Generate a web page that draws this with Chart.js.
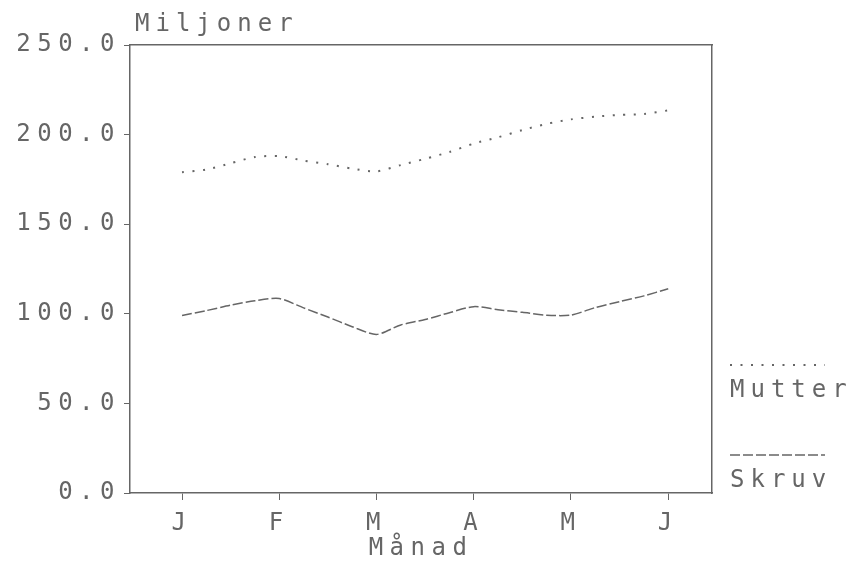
<!DOCTYPE html>
<html>
<head>
<meta charset="utf-8">
<script src="https://cdn.jsdelivr.net/npm/chart.js@4/dist/chart.umd.min.js"></script>
<style>
  html, body { margin: 0; padding: 0; background: #fff; }
  #wrap { width: 853px; height: 565px; }
</style>
</head>
<body>
<div id="wrap"><canvas id="myLineChart"></canvas></div>
<script>
// data
const monthLabels = ["J", "F", "M", "A", "M", "J"];
const weekPos = [0, 0.25, 0.5, 0.75, 1, 1.25, 1.5, 1.75, 2, 2.25, 2.5,
                 2.75, 3, 3.25, 3.5, 3.75, 4, 4.25, 4.5, 4.75, 5];
const mutter = [179, 180.5, 184, 187.5, 188, 185.5, 183.5, 181, 179.5, 183, 186.5,
                190.3, 195, 198.5, 202.5, 206, 208.5, 210, 211, 211.5, 213.5];
const skruv = [99, 101.8, 104.8, 107.3, 108.5, 103.3, 98.2, 92.8, 88.5, 93.8, 96.8,
               100.6, 104, 102.3, 100.8, 99.2, 99.3, 103.5, 106.8, 110, 114];
const yTicks = [0, 50, 100, 150, 200, 250];
const seriesNames = ["Mutter", "Skruv"];
const unitLabel = "Miljoner";
const xTitle = "Månad";

const ink = "#666";
const fontFamily = "'DejaVu Sans Mono', monospace";

Chart.defaults.font.family = fontFamily;
Chart.defaults.font.size = 24;
Chart.defaults.color = ink;

const toPoints = (vals) => weekPos.map((x, i) => ({ x: x, y: vals[i] }));

const data = {
  datasets: [
    {
      label: seriesNames[0],
      data: toPoints(mutter),
      borderColor: ink,
      borderWidth: 2,
      borderDash: [2, 8.5],
      pointRadius: 0,
      tension: 0.25,
      fill: false,
    },
    {
      label: seriesNames[1],
      data: toPoints(skruv),
      borderColor: ink,
      borderWidth: 1.5,
      borderDash: [10, 3],
      pointRadius: 0,
      tension: 0.25,
      fill: false,
    },
  ],
};

const monthTicks = (scale) => {
  scale.ticks = monthLabels.map((_, i) => ({ value: i }));
};

// unit label on top and the legend on the right
const extraText = {
  id: "extraText",
  beforeUpdate(chart) {
    chart.ctx.letterSpacing = "6.5px";
  },
  afterDraw(chart) {
    const ctx = chart.ctx;
    const area = chart.chartArea;
    ctx.save();
    ctx.letterSpacing = "6px";
    ctx.font = "24px " + fontFamily;
    ctx.fillStyle = ink;
    ctx.textBaseline = "middle";
    ctx.textAlign = "left";
    ctx.fillText(unitLabel, area.left + 5, 25);

    const lx = area.right + 18;
    chart.data.datasets.forEach((ds, i) => {
      const sy = 365 + i * 90;
      ctx.strokeStyle = ds.borderColor;
      ctx.lineWidth = ds.borderWidth;
      ctx.setLineDash(ds.borderDash);
      ctx.beginPath();
      ctx.moveTo(lx, sy);
      ctx.lineTo(lx + 95, sy);
      ctx.stroke();
      ctx.setLineDash([]);
      ctx.fillText(ds.label, lx, sy + 26);
    });
    ctx.restore();
  },
};

const config = {
  type: "line",
  data: data,
  plugins: [extraText],
  options: {
    responsive: true,
    maintainAspectRatio: false,
    animation: false,
    layout: { padding: 0 },
    plugins: {
      legend: { display: false },
      tooltip: { enabled: false },
    },
    scales: {
      x: {
        type: "linear",
        position: "bottom",
        min: -0.535,
        max: 5.45,
        afterBuildTicks: monthTicks,
        afterFit: (s) => { s.height = 72; },
        ticks: {
          padding: 9,
          maxRotation: 0,
          callback: (v, i) => monthLabels[i],
        },
        grid: { drawOnChartArea: false, tickLength: 7, color: ink },
        border: { color: ink, width: 1.5 },
        title: { display: true, text: xTitle, padding: { top: 0, bottom: 2 } },
      },
      x2: {
        type: "linear",
        position: "top",
        min: -0.535,
        max: 5.45,
        afterBuildTicks: monthTicks,
        afterFit: (s) => { s.height = 45; },
        ticks: { display: false },
        grid: { drawOnChartArea: false, drawTicks: false },
        border: { color: ink, width: 1.5 },
      },
      y: {
        min: 0,
        max: 250,
        afterBuildTicks: (s) => { s.ticks = yTicks.map((v) => ({ value: v })); },
        afterFit: (s) => { s.width = 130; },
        ticks: { padding: 3, callback: (v) => v.toFixed(1) },
        grid: { drawOnChartArea: false, tickLength: 6, color: ink },
        border: { color: ink, width: 1.5 },
      },
      y2: {
        position: "right",
        min: 0,
        max: 250,
        afterFit: (s) => { s.width = 141; },
        ticks: { display: false },
        grid: { drawOnChartArea: false, drawTicks: false },
        border: { color: ink, width: 1.5 },
      },
    },
  },
};

const ctx = document.getElementById("myLineChart").getContext("2d");
const myLineChart = new Chart(ctx, config);
</script>
</body>
</html>
